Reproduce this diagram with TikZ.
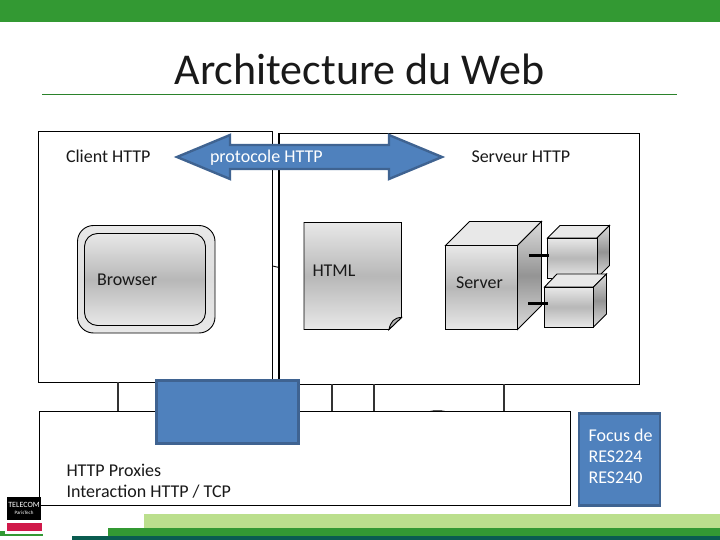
\documentclass[tikz,border=0pt]{standalone}
\usepackage{fontspec}
\setmainfont{Carlito}
\definecolor{hdrgreen}{HTML}{339933}
\definecolor{lightgreen}{HTML}{BBDF8D}
\definecolor{darkteal}{HTML}{0A5C50}
\definecolor{bluefill}{HTML}{4F81BD}
\definecolor{blueedge}{HTML}{3F6391}
\definecolor{logored}{HTML}{D0194A}
\tikzset{
  x=1pt,y=-1pt,
  every node/.style={inner sep=0pt,outer sep=0pt},
  framebox/.style={draw=black,line width=1.1pt,fill=white,anchor=north west},
  bluebox/.style={draw=blueedge,line width=2.6pt,fill=bluefill,anchor=north west},
  label/.style={anchor=base west,font=\fontsize{18}{21}\selectfont,text=black!90},
  solid3d/.style={draw=black,line width=.9pt,top color=black!9,bottom color=black!9,middle color=black!28},
  topface/.style={draw=black,line width=.9pt,fill=black!9},
  sideface/.style={draw=black,line width=.9pt,top color=black!14,bottom color=black!14,middle color=black!42},
  wire/.style={draw=black!80,line width=1.9pt},
  bar/.style={draw=black,line width=3.4pt}
}
\begin{document}
\begin{tikzpicture}
\useasboundingbox (0,0) rectangle (720,540);
% slide furniture
\fill[hdrgreen] (0,0) rectangle (720,22);
\fill[lightgreen] (144,514) rectangle (720,528);
\fill[hdrgreen] (108,528) rectangle (720,536);
\fill[darkteal] (72,536) rectangle (720,540);
\fill[hdrgreen] (0,531) rectangle (5,536);
\fill[hdrgreen] (5,534) rectangle (43,536);
\node[anchor=base,font=\fontsize{44}{52}\selectfont,text=black!90] (title) at (359.5,85) {Architecture du Web};
\coordinate (ruleL) at (42,94.5);
\coordinate (ruleR) at (677,94.5);
\draw[hdrgreen!85!black,line width=1pt] (ruleL) -- (ruleR);
% boxes
\node[framebox,minimum width=234pt,minimum height=251pt] (client) at (38.5,131.5) {};
\node[framebox,minimum width=360.5pt,minimum height=251pt] (server) at (279,133.5) {};
\node[framebox,minimum width=531pt,minimum height=94pt] (proxy) at (39.5,411.5) {};
% connectors
\coordinate (tickA) at (272.5,266);
\coordinate (tickB) at (279,267.5);
\draw[black,line width=.9pt] (tickA) -- (tickB);
\coordinate (c1t) at (118,382);  \coordinate (c1b) at (118,411);
\coordinate (c2t) at (332.3,384);\coordinate (c2b) at (332.3,411);
\coordinate (c3t) at (373.7,384);\coordinate (c3b) at (373.7,411);
\coordinate (c4t) at (504.3,384);\coordinate (c4b) at (504.3,411);
\draw[wire] (c1t) -- (c1b);
\draw[wire] (c2t) -- (c2b);
\draw[wire] (c3t) -- (c3b);
\draw[wire] (c4t) -- (c4b);
\coordinate (arcA) at (430,411);
\coordinate (arcB) at (445,411);
\fill[black] (arcA) .. controls (434,410) and (441,410) .. (arcB) -- cycle;
% labels
\node[label] (lclient) at (66,163) {Client HTTP};
\node[label] (lserver) at (471.5,163) {Serveur HTTP};
% browser
\node[solid3d,rounded corners=16pt,minimum width=137.5pt,minimum height=107.5pt,anchor=north west,top color=black!9,bottom color=black!9,middle color=black!13] (browserO) at (77.5,225.5) {};
\node[solid3d,rounded corners=13pt,minimum width=121pt,minimum height=92pt,anchor=north west] (browserI) at (84.5,233.5) {};
\node[label] (lbrowser) at (97,285) {Browser};
% HTML document
\path[solid3d] (304,222.5) -- (401.5,222.5) -- (401.5,317.5) -- (389,329.5) -- (304,329.5) -- cycle;
\path[draw=black,line width=.9pt,fill=black!30] (389,329.5) .. controls (390.5,322) and (394,317.5) .. (401.5,317.5) -- cycle;
\node[label] (lhtml) at (312.5,276) {HTML};
% main server cube
\path[topface] (445.5,245.5) -- (469.5,221.5) -- (541.5,221.5) -- (517.5,245.5) -- cycle;
\path[sideface] (517.5,245.5) -- (541.5,221.5) -- (541.5,305.5) -- (517.5,329.5) -- cycle;
\node[solid3d,minimum width=72pt,minimum height=84pt,anchor=north west] (srvfront) at (445.5,245.5) {};
\node[label] (lsrv) at (456,288) {Server};
% small cube 1
\path[topface] (547.5,238) -- (560,225.5) -- (609.5,225.5) -- (597,238) -- cycle;
\path[sideface] (597,238) -- (609.5,225.5) -- (609.5,265.5) -- (597,278) -- cycle;
\node[solid3d,minimum width=49.5pt,minimum height=40pt,anchor=north west] (disk1) at (547.5,238) {};
% small cube 2
\path[topface] (544.5,287) -- (557,274) -- (606.5,274) -- (593.5,287) -- cycle;
\path[sideface] (593.5,287) -- (606.5,274) -- (606.5,314) -- (593.5,327) -- cycle;
\node[solid3d,minimum width=49pt,minimum height=40pt,anchor=north west] (disk2) at (544.5,287) {};
% links between server and disks
\coordinate (b1) at (529,255.5);
\coordinate (b2) at (528,303.5);
\draw[bar] (b1) -- ([xshift=1.5pt]disk1.west |- b1);
\draw[bar] (b2) -- ([xshift=3.5pt]disk2.west |- b2);
% protocol arrow
\path[draw=blueedge,line width=2.4pt,fill=bluefill,line join=miter]
  (177,157) -- (230,135) -- (230,145) -- (389,145) -- (389,135) -- (442,157) -- (389,179) -- (389,169) -- (230,169) -- (230,179) -- cycle;
\node[anchor=base west,font=\fontsize{18}{21}\selectfont,text=white] (lproto) at (210,163) {protocole HTTP};
% blue boxes
\node[bluebox,minimum width=142pt,minimum height=63pt] (hidden) at (156.5,380.5) {};
\node[bluebox,minimum width=81pt,minimum height=92pt] (focus) at (579,413.5) {};
\node[anchor=north west,align=left,font=\fontsize{18}{21}\selectfont,text=white] (lfocus) at (588.5,429) {Focus de\\RES224\\RES240};
% proxies label
\node[anchor=north west,align=left,font=\fontsize{18}{21.5}\selectfont,text=black!90] (lproxy) at (66.5,464) {HTTP Proxies\\Interaction HTTP / TCP};
% logo
\node[fill=black,minimum width=34pt,minimum height=23pt,anchor=north west,text=white,align=center,font=\fontsize{8}{8}\selectfont] (logoA) at (7,497) {TELECOM\\[-.5pt]{\fontsize{5}{5}\selectfont ParisTech}};
\node[fill=logored,minimum width=35pt,minimum height=8pt,anchor=north west] (logoB) at (7,523) {};
\end{tikzpicture}
\end{document}
